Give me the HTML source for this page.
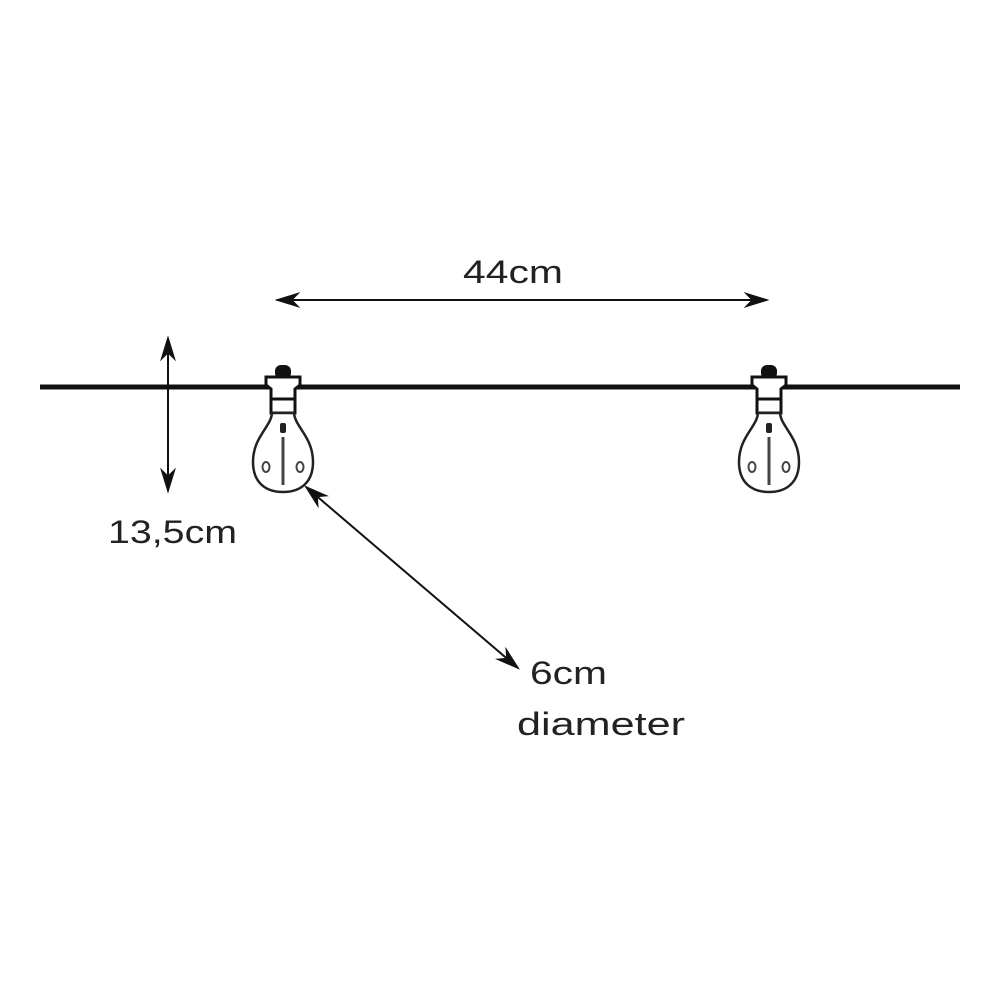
<!DOCTYPE html>
<html><head><style>
html,body{margin:0;padding:0;background:#fff;}
svg{display:block;}
text{font-family:"Liberation Sans",sans-serif;fill:#222;font-size:32px;}
</style></head><body>
<svg width="1000" height="1000" viewBox="0 0 1000 1000">
<defs>
<g id="bulb">
 <rect x="-8" y="-22" width="16" height="14" rx="6" fill="#111"/>
 <path d="M-17,-10 L17,-10 L17,-2 L12,2 L12,26 L-12,26 L-12,2 L-17,-2 Z" fill="#fff" stroke="#111" stroke-width="3"/>
 <rect x="-12" y="12" width="24" height="14" fill="#fff" stroke="#111" stroke-width="3"/>
 <path d="M-11,26 C-12,40 -30,50 -30,75 C-30,95 -18,105 0,105 C18,105 30,95 30,75 C30,50 12,40 11,26 Z" fill="#fff" stroke="#222" stroke-width="2.5"/>
 <rect x="-3" y="36" width="6" height="10" rx="2" fill="#222"/>
 <line x1="0" y1="50" x2="0" y2="98" stroke="#444" stroke-width="3"/>
 <ellipse cx="-17" cy="80" rx="3.5" ry="5" fill="none" stroke="#444" stroke-width="2"/>
 <ellipse cx="17" cy="80" rx="3.5" ry="5" fill="none" stroke="#444" stroke-width="2"/>
</g>
<marker id="ah" viewBox="0 0 10 10" refX="9" refY="5" markerWidth="12" markerHeight="12" markerUnits="userSpaceOnUse" orient="auto-start-reverse">
 <path d="M0,0 L10,5 L0,10 L3,5 Z" fill="#111"/>
</marker>
<marker id="ah2" viewBox="0 0 10 10" refX="9" refY="5" markerWidth="26" markerHeight="16" markerUnits="userSpaceOnUse" orient="auto-start-reverse" preserveAspectRatio="none">
 <path d="M0,0 L10,5 L0,10 L3,5 Z" fill="#111"/>
</marker>
</defs>
<line x1="40" y1="387" x2="960" y2="387" stroke="#111" stroke-width="5"/>
<use href="#bulb" x="283" y="387"/>
<use href="#bulb" x="769" y="387"/>
<line x1="277" y1="300" x2="767" y2="300" stroke="#111" stroke-width="2" marker-start="url(#ah2)" marker-end="url(#ah2)"/>
<line x1="168" y1="338" x2="168" y2="491" stroke="#111" stroke-width="2" marker-start="url(#ah2)" marker-end="url(#ah2)"/>
<line x1="306" y1="487" x2="518" y2="668" stroke="#111" stroke-width="2" marker-start="url(#ah2)" marker-end="url(#ah2)"/>
<text x="463" y="283" textLength="100" lengthAdjust="spacingAndGlyphs">44cm</text>
<text x="108" y="543" textLength="129" lengthAdjust="spacingAndGlyphs">13,5cm</text>
<text x="530" y="684" textLength="77" lengthAdjust="spacingAndGlyphs">6cm</text>
<text x="517" y="735" textLength="168" lengthAdjust="spacingAndGlyphs">diameter</text>
</svg>
</body></html>
